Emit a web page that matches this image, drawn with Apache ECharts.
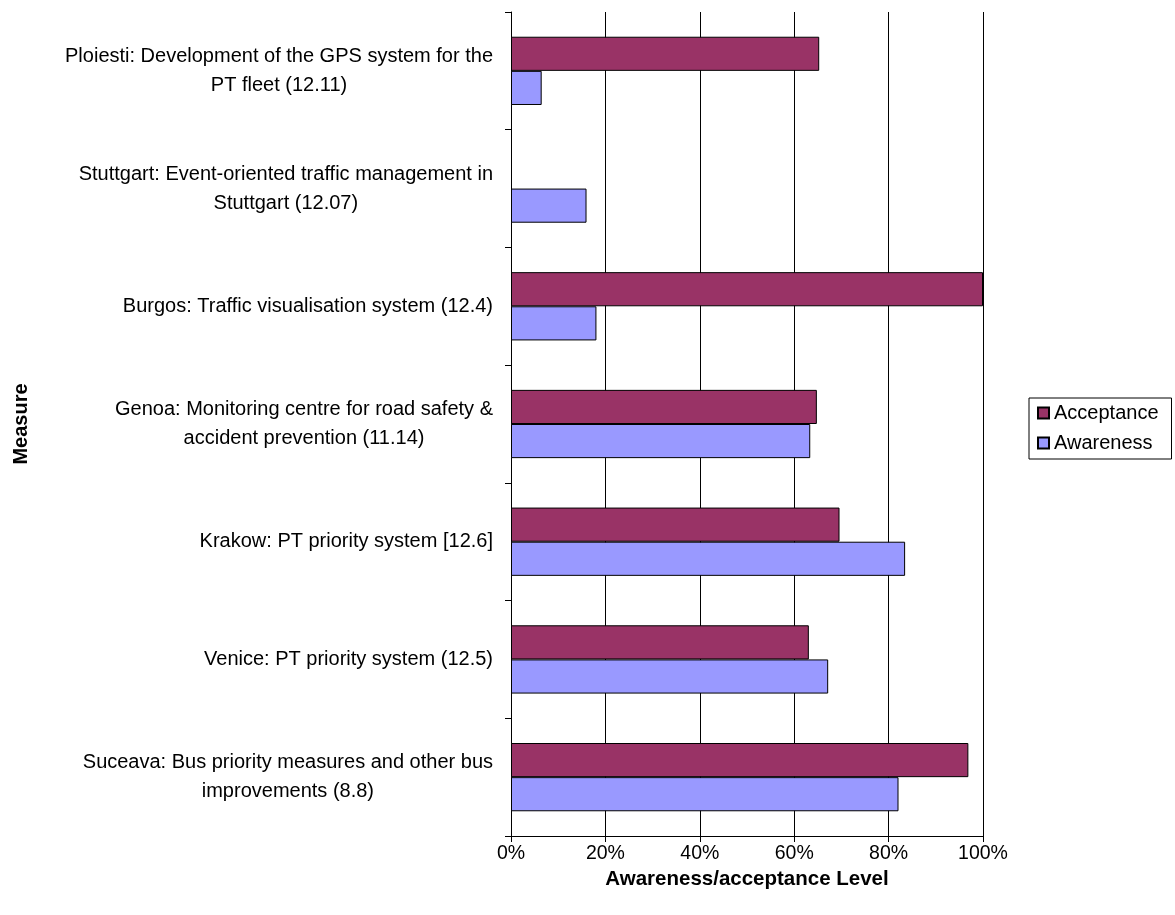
<!DOCTYPE html>
<html>
<head>
<meta charset="utf-8">
<script src="https://cdn.jsdelivr.net/npm/echarts@6/dist/echarts.min.js"></script>
<style>
  html, body { margin: 0; padding: 0; background: #fff; }
  #chart { width: 1175px; height: 915px; }
</style>
</head>
<body>
<div id="chart"></div>
<script>
// Measures (top to bottom), each label split into its display lines
const measures = [
  ['Ploiesti: Development of the GPS system for the', 'PT fleet (12.11)'],
  ['Stuttgart: Event-oriented traffic management in', 'Stuttgart (12.07)'],
  ['Burgos: Traffic visualisation system (12.4)'],
  ['Genoa: Monitoring centre for road safety &', 'accident prevention (11.14)'],
  ['Krakow: PT priority system [12.6]'],
  ['Venice: PT priority system (12.5)'],
  ['Suceava: Bus priority measures and other bus', 'improvements (8.8)']
];

// Levels in percent; null where no value was reported
const acceptance = [65.3, null, 100, 64.8, 69.6, 63.1, 96.9];
const awareness  = [6.5, 16.0, 18.1, 63.4, 83.5, 67.2, 82.1];

const xTicks = [0, 20, 40, 60, 80, 100];

const FONT = 'Arial, "Liberation Sans", sans-serif';
const categories = measures.map(m => m.join('\n'));

const chart = echarts.init(document.getElementById('chart'), null, { renderer: 'canvas' });

chart.setOption({
  backgroundColor: '#ffffff',
  animation: false,
  textStyle: { fontFamily: FONT },
  grid: { left: 511, right: 192, top: 12, bottom: 79, containLabel: false },
  legend: {
    orient: 'vertical',
    left: 1029,
    top: 398,
    data: ['Acceptance', 'Awareness'],
    icon: 'rect',
    itemWidth: 11,
    itemHeight: 11,
    itemGap: 10,
    padding: [5, 13, 6, 8],
    borderColor: '#000',
    borderWidth: 1,
    textStyle: { fontSize: 20, color: '#000', fontFamily: FONT, padding: [0, 0, 0, 0] }
  },
  xAxis: {
    type: 'value',
    min: 0,
    max: 100,
    interval: 20,
    name: 'Awareness/acceptance Level',
    nameLocation: 'middle',
    nameGap: 31,
    nameTextStyle: { fontSize: 20.5, fontWeight: 'bold', color: '#000', fontFamily: FONT },
    axisLine: { show: true, lineStyle: { color: '#000', width: 1 } },
    axisTick: { show: true, length: 6, lineStyle: { color: '#000' } },
    axisLabel: {
      fontSize: 19.5, color: '#000', margin: 8, fontFamily: FONT,
      formatter: v => xTicks.includes(v) ? v + '%' : ''
    },
    splitLine: { show: true, lineStyle: { color: '#000', width: 1 } }
  },
  yAxis: {
    type: 'category',
    inverse: true,
    data: categories,
    name: 'Measure',
    nameLocation: 'middle',
    nameGap: 480,
    nameRotate: 90,
    nameTextStyle: { fontSize: 20, fontWeight: 'bold', color: '#000', fontFamily: FONT },
    axisLine: { show: true, lineStyle: { color: '#000', width: 1 } },
    axisTick: { show: true, length: 6, alignWithLabel: false, lineStyle: { color: '#000' } },
    axisLabel: {
      fontSize: 20, color: '#000', margin: 18, fontFamily: FONT,
      align: 'right',
      interval: 0,
      formatter: v => v.split('\n').map(l => '{c|' + l + '}').join('\n'),
      rich: { c: { align: 'center', fontSize: 20, lineHeight: 29, color: '#000', fontFamily: FONT } }
    },
    splitLine: { show: false }
  },
  series: [
    {
      name: 'Acceptance',
      type: 'bar',
      data: acceptance,
      barCategoryGap: '42%',
      barGap: '0%',
      itemStyle: { color: '#993366', borderColor: '#000', borderWidth: 1 }
    },
    {
      name: 'Awareness',
      type: 'bar',
      data: awareness,
      barCategoryGap: '42%',
      barGap: '0%',
      itemStyle: { color: '#9999FF', borderColor: '#000', borderWidth: 1 }
    }
  ]
});
</script>
</body>
</html>
